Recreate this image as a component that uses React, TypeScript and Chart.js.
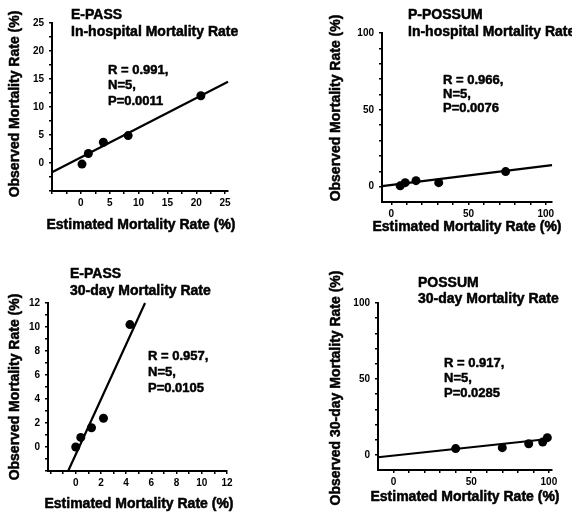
import React, { useEffect, useRef } from "react";
import { Chart, registerables } from "chart.js";

Chart.register(...registerables);

const W = 572;
const H = 513;
const FONT = "'Liberation Sans', Arial, Helvetica, sans-serif";

// ---------- Panel A: E-PASS, in-hospital mortality ----------
const epassHospEstimated = [0.2, 1.3, 3.9, 8.2, 20.8];
const epassHospObserved = [-0.2, 1.7, 3.7, 4.9, 12.0];
const epassHospFitX = [-5, 25.5];
const epassHospFitY = [-1.65, 14.5];
const epassHospXLabels = [0, 5, 10, 15, 20, 25];
const epassHospYLabels = [0, 5, 10, 15, 20, 25];
const epassHospStats = ["R = 0.991,", "N=5,", "P=0.0011"];

// ---------- Panel B: P-POSSUM, in-hospital mortality ----------
const ppossumHospEstimated = [5.8, 9, 16, 30.7, 74];
const ppossumHospObserved = [0.5, 2.6, 3.9, 2.6, 9.8];
const ppossumHospFitX = [-6, 104];
const ppossumHospFitY = [0.3, 14.0];
const ppossumHospXLabels = [0, 50, 100];
const ppossumHospYLabels = [0, 50, 100];
const ppossumHospStats = ["R = 0.966,", "N=5,", "P=0.0076"];

// ---------- Panel C: E-PASS, 30-day mortality ----------
const epass30Estimated = [0, 0.4, 1.25, 2.2, 4.3];
const epass30Observed = [0, 0.8, 1.6, 2.4, 10.2];
const epass30FitX = [-0.6, 5.5];
const epass30FitY = [-2, 12];
const epass30XLabels = [0, 2, 4, 6, 8, 10, 12];
const epass30YLabels = [0, 2, 4, 6, 8, 10, 12];
const epass30Stats = ["R = 0.957,", "N=5,", "P=0.0105"];

// ---------- Panel D: POSSUM, 30-day mortality ----------
const possum30Estimated = [40, 70, 87, 96, 99];
const possum30Observed = [4.1, 4.7, 7.3, 8.4, 11.3];
const possum30FitX = [-10, 101];
const possum30FitY = [-1.6, 10.6];
const possum30XLabels = [0, 50, 100];
const possum30YLabels = [0, 50, 100];
const possum30Stats = ["R = 0.917,", "N=5,", "P=0.0285"];

type TextItem = { text: string; x: number; y: number; size: number; align: CanvasTextAlign; rot?: number };

type PanelCfg = {
  est: number[];
  obs: number[];
  fitX: number[];
  fitY: number[];
  xLabels: number[];
  yLabels: number[];
  xMinorStep: number;
  yMinorStep: number;
  xMinorFrom: number;
  yMinorFrom: number;
  xMin: number;
  xMax: number;
  yMin: number;
  yMax: number;
  area: { l: number; r: number; t: number; b: number };
  heading: string[];
  headingPos: { x: number; y: number; dy: number };
  stats: string[];
  statsPos: { x: number; y: number; dy: number };
  xTitle: string;
  xTitlePos: { x: number; y: number };
  yTitle: string;
  yTitlePos: { x: number; y: number };
};

const panels: PanelCfg[] = [
  {
    est: epassHospEstimated,
    obs: epassHospObserved,
    fitX: epassHospFitX,
    fitY: epassHospFitY,
    xLabels: epassHospXLabels,
    yLabels: epassHospYLabels,
    xMinorStep: 2.5,
    yMinorStep: 2.5,
    xMinorFrom: -5,
    yMinorFrom: -5,
    xMin: -5,
    xMax: 25.5,
    yMin: -5,
    yMax: 25,
    area: { l: 52, r: 228, t: 23, b: 191 },
    heading: ["E-PASS", "In-hospital Mortality Rate"],
    headingPos: { x: 71, y: 15, dy: 17 },
    stats: epassHospStats,
    statsPos: { x: 108, y: 70, dy: 15.5 },
    xTitle: "Estimated Mortality Rate (%)",
    xTitlePos: { x: 141, y: 225 },
    yTitle: "Observed Mortality Rate (%)",
    yTitlePos: { x: 15, y: 104 },
  },
  {
    est: ppossumHospEstimated,
    obs: ppossumHospObserved,
    fitX: ppossumHospFitX,
    fitY: ppossumHospFitY,
    xLabels: ppossumHospXLabels,
    yLabels: ppossumHospYLabels,
    xMinorStep: 10,
    yMinorStep: 10,
    xMinorFrom: 0,
    yMinorFrom: 0,
    xMin: -6,
    xMax: 104,
    yMin: -10,
    yMax: 100,
    area: { l: 382, r: 552, t: 33, b: 202 },
    heading: ["P-POSSUM", "In-hospital Mortality Rate"],
    headingPos: { x: 408, y: 15, dy: 17 },
    stats: ppossumHospStats,
    statsPos: { x: 443, y: 80, dy: 14 },
    xTitle: "Estimated Mortality Rate (%)",
    xTitlePos: { x: 467, y: 227 },
    yTitle: "Observed Mortality Rate (%)",
    yTitlePos: { x: 336, y: 108 },
  },
  {
    est: epass30Estimated,
    obs: epass30Observed,
    fitX: epass30FitX,
    fitY: epass30FitY,
    xLabels: epass30XLabels,
    yLabels: epass30YLabels,
    xMinorStep: 1,
    yMinorStep: 1,
    xMinorFrom: -2,
    yMinorFrom: -2,
    xMin: -2.2,
    xMax: 12,
    yMin: -2,
    yMax: 12,
    area: { l: 48, r: 227, t: 303, b: 471 },
    heading: ["E-PASS", "30-day Mortality Rate"],
    headingPos: { x: 70, y: 274, dy: 17 },
    stats: epass30Stats,
    statsPos: { x: 148, y: 356, dy: 16 },
    xTitle: "Estimated Mortality Rate (%)",
    xTitlePos: { x: 139, y: 504 },
    yTitle: "Observed Mortality Rate (%)",
    yTitlePos: { x: 15, y: 387 },
  },
  {
    est: possum30Estimated,
    obs: possum30Observed,
    fitX: possum30FitX,
    fitY: possum30FitY,
    xLabels: possum30XLabels,
    yLabels: possum30YLabels,
    xMinorStep: 10,
    yMinorStep: 10,
    xMinorFrom: 0,
    yMinorFrom: 0,
    xMin: -10,
    xMax: 102,
    yMin: -10,
    yMax: 100,
    area: { l: 378, r: 552, t: 303, b: 470 },
    heading: ["POSSUM", "30-day Mortality Rate"],
    headingPos: { x: 418, y: 283, dy: 16.5 },
    stats: possum30Stats,
    statsPos: { x: 444, y: 363, dy: 15 },
    xTitle: "Estimated Mortality Rate (%)",
    xTitlePos: { x: 465, y: 497 },
    yTitle: "Observed 30-day Mortality Rate (%)",
    yTitlePos: { x: 336, y: 388 },
  },
];

const textPlugin = {
  id: "panelText",
  afterDraw(chart: any, _args: any, opts: any) {
    const ctx: CanvasRenderingContext2D = chart.ctx;
    const items: TextItem[] = opts.items || [];
    ctx.save();
    ctx.fillStyle = "#000";
    ctx.strokeStyle = "#000";
    ctx.lineWidth = 0.5;
    ctx.lineJoin = "round";
    ctx.textBaseline = "middle";
    for (const t of items) {
      ctx.save();
      ctx.font = `bold ${t.size}px ${FONT}`;
      ctx.translate(t.x, t.y);
      if (t.rot) ctx.rotate(t.rot);
      ctx.textAlign = t.align;
      ctx.fillText(t.text, 0, 0);
      ctx.strokeText(t.text, 0, 0);
      ctx.restore();
    }
    ctx.restore();
  },
};

function tickList(from: number, to: number, step: number): number[] {
  const out: number[] = [];
  for (let v = from; v <= to + 1e-9; v += step) out.push(Math.round(v * 1000) / 1000);
  return out;
}

const Y_AXIS_W = 30;
const X_AXIS_H = 22;

function Panel({ cfg }: { cfg: PanelCfg }) {
  const ref = useRef<HTMLCanvasElement | null>(null);
  useEffect(() => {
    if (!ref.current) return;
    const items: TextItem[] = [];
    cfg.heading.forEach((h, i) =>
      items.push({ text: h, x: cfg.headingPos.x, y: cfg.headingPos.y + i * cfg.headingPos.dy, size: 14, align: "left" })
    );
    cfg.stats.forEach((s, i) =>
      items.push({ text: s, x: cfg.statsPos.x, y: cfg.statsPos.y + i * cfg.statsPos.dy, size: 13, align: "left" })
    );
    items.push({ text: cfg.xTitle, x: cfg.xTitlePos.x, y: cfg.xTitlePos.y, size: 14, align: "center" });
    items.push({ text: cfg.yTitle, x: cfg.yTitlePos.x, y: cfg.yTitlePos.y, size: 14, align: "center", rot: -Math.PI / 2 });

    const xTicks = tickList(cfg.xMinorFrom, Math.min(cfg.xMax, cfg.xLabels[cfg.xLabels.length - 1]), cfg.xMinorStep);
    const yTicks = tickList(cfg.yMinorFrom, Math.min(cfg.yMax, cfg.yLabels[cfg.yLabels.length - 1]), cfg.yMinorStep);

    const tickFont = { family: FONT, size: 10, weight: "bold" as const };
    const gridOpts = {
      display: true,
      drawOnChartArea: false,
      drawTicks: true,
      tickLength: 3,
      color: "#000",
      lineWidth: 1.5,
    };
    const borderOpts = { display: true, color: "#000", width: 2 };

    const chart = new Chart(ref.current, {
      type: "scatter",
      data: {
        datasets: [
          {
            data: cfg.est.map((x, i) => ({ x, y: cfg.obs[i] })),
            pointRadius: 4.5,
            pointBackgroundColor: "#000",
            pointBorderColor: "#000",
            pointBorderWidth: 0,
            showLine: false,
          },
          {
            data: cfg.fitX.map((x, i) => ({ x, y: cfg.fitY[i] })),
            showLine: true,
            borderColor: "#000",
            borderWidth: 2.2,
            pointRadius: 0,
            fill: false,
            clip: false as any,
          },
        ],
      },
      options: {
        animation: false,
        responsive: false,
        maintainAspectRatio: false,
        devicePixelRatio: 1,
        events: [],
        layout: {
          padding: {
            left: cfg.area.l - Y_AXIS_W,
            right: W - cfg.area.r,
            top: cfg.area.t,
            bottom: H - cfg.area.b - X_AXIS_H,
          },
        },
        plugins: {
          legend: { display: false },
          tooltip: { enabled: false },
          title: { display: false },
          panelText: { items },
        } as any,
        scales: {
          x: {
            type: "linear",
            min: cfg.xMin,
            max: cfg.xMax,
            afterFit: (s: any) => {
              s.height = X_AXIS_H;
            },
            afterBuildTicks: (s: any) => {
              s.ticks = xTicks.map((v) => ({ value: v }));
            },
            ticks: {
              autoSkip: false,
              maxRotation: 0,
              minRotation: 0,
              padding: 3,
              color: "#000",
              font: tickFont,
              callback: (v: any) => (cfg.xLabels.includes(Number(v)) ? String(v) : ""),
            },
            grid: gridOpts,
            border: borderOpts,
          },
          y: {
            type: "linear",
            min: cfg.yMin,
            max: cfg.yMax,
            afterFit: (s: any) => {
              s.width = Y_AXIS_W;
            },
            afterBuildTicks: (s: any) => {
              s.ticks = yTicks.map((v) => ({ value: v }));
            },
            ticks: {
              autoSkip: false,
              padding: 5,
              color: "#000",
              font: tickFont,
              callback: (v: any) => (cfg.yLabels.includes(Number(v)) ? String(v) : ""),
            },
            grid: gridOpts,
            border: borderOpts,
          },
        },
      },
      plugins: [textPlugin],
    } as any);
    return () => chart.destroy();
  }, [cfg]);
  return (
    <canvas
      ref={ref}
      width={W}
      height={H}
      style={{ position: "absolute", left: 0, top: 0, width: W, height: H, display: "block" }}
    />
  );
}

export default function App() {
  return (
    <div style={{ position: "absolute", left: 0, top: 0, width: W, height: H, background: "#fff", overflow: "hidden" }}>
      {panels.map((p, i) => (
        <Panel key={i} cfg={p} />
      ))}
    </div>
  );
}
